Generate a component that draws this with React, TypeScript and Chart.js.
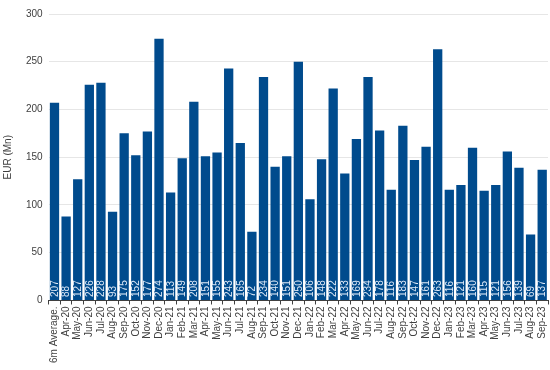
import React, { useEffect, useRef } from "react";
import { Chart, registerables } from "chart.js";

Chart.register(...registerables);

const categories = ["6m Average.","Apr-20","May-20","Jun-20","Jul-20","Aug-20","Sep-20","Oct-20","Nov-20","Dec-20","Jan-21","Feb-21","Mar-21","Apr-21","May-21","Jun-21","Jul-21","Aug-21","Sep-21","Oct-21","Nov-21","Dec-21","Jan-22","Feb-22","Mar-22","Apr-22","May-22","Jun-22","Jul-22","Aug-22","Sep-22","Oct-22","Nov-22","Dec-22","Jan-23","Feb-23","Mar-23","Apr-23","May-23","Jun-23","Jul-23","Aug-23","Sep-23"];
const values = [207,88,127,226,228,93,175,152,177,274,113,149,208,151,155,243,165,72,234,140,151,250,106,148,222,133,169,234,178,116,183,147,161,263,116,121,160,115,121,156,139,69,137];
const yTicks = [0, 50, 100, 150, 200, 250, 300];

const labelPlugin = {
  id: "barLabels",
  afterDatasetsDraw(chart: any) {
    const ctx = chart.ctx;
    const meta = chart.getDatasetMeta(0);
    ctx.save();
    ctx.font = "10px 'Liberation Sans', Arial, sans-serif";
    ctx.fillStyle = "#dce8f6";
    ctx.textAlign = "left";
    ctx.textBaseline = "middle";
    meta.data.forEach((bar: any, i: number) => {
      ctx.save();
      ctx.translate(bar.x, bar.base - 3);
      ctx.rotate(-Math.PI / 2);
      ctx.fillText(String(values[i]), 0, 0.5);
      ctx.restore();
    });
    ctx.restore();
  },
};

export default function App() {
  const ref = useRef<HTMLCanvasElement>(null);
  useEffect(() => {
    document.body.style.margin = "0";
    const chart = new Chart(ref.current!, {
      type: "bar",
      data: {
        labels: categories,
        datasets: [
          {
            data: values,
            backgroundColor: "#004b8d",
            borderWidth: 0,
            barPercentage: 0.8,
            categoryPercentage: 1,
          },
        ],
      },
      options: {
        animation: false,
        responsive: false,
        maintainAspectRatio: false,
        layout: { padding: { top: 14, right: 2, left: 2, bottom: 5 } },
        plugins: { legend: { display: false }, tooltip: { enabled: false } },
        scales: {
          x: {
            afterFit: (axis: any) => {
              axis.paddingLeft = 0;
              axis.paddingRight = 0;
            },
            grid: { display: true, drawOnChartArea: false, offset: true, color: "#404040", tickLength: 4 },
            border: { display: true, color: "#404040" },
            ticks: {
              autoSkip: false,
              maxRotation: 90,
              minRotation: 90,
              color: "#404040",
              font: { family: "'Liberation Sans', Arial, sans-serif", size: 10 },
              padding: 2,
            },
          },
          y: {
            min: 0,
            max: 300,
            afterBuildTicks: (axis: any) => {
              axis.ticks = yTicks.map((v) => ({ value: v }));
            },
            grid: { color: "#e6e6e6", drawTicks: false },
            border: { display: false },
            ticks: {
              color: "#404040",
              font: { family: "'Liberation Sans', Arial, sans-serif", size: 10 },
              padding: 6,
            },
            title: {
              display: true,
              text: "EUR (Mn)",
              color: "#404040",
              font: { family: "'Liberation Sans', Arial, sans-serif", size: 10 },
              padding: { top: 0, bottom: 6 },
            },
          },
        },
      },
      plugins: [labelPlugin],
    });
    return () => chart.destroy();
  }, []);
  return (
    <div style={{ width: 550, height: 370 }}>
      <canvas ref={ref} width={550} height={370} style={{ display: "block" }} />
    </div>
  );
}
